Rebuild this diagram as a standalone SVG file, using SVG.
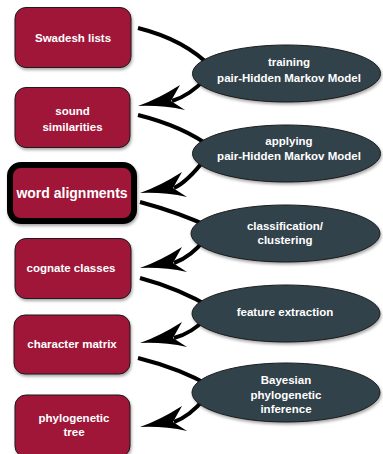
<svg xmlns="http://www.w3.org/2000/svg" xmlns:xlink="http://www.w3.org/1999/xlink" width="383" height="454" viewBox="0 0 383 454">
<defs>
<filter id="sh" x="-10%" y="-10%" width="125%" height="130%">
<feDropShadow dx="1" dy="2" stdDeviation="1.5" flood-color="#000" flood-opacity="0.35"/>
</filter>
<path id="ah" d="M0,0 Q20,-7 42,-21 L33,-5 L47,4 Q24,-1 0,0 Z"/>
</defs>
<style>
.box{fill:#a01839;stroke:#1a1a1a;stroke-width:1;filter:url(#sh)}
.ell{fill:#33434c;stroke:#1a1a1a;stroke-width:1;filter:url(#sh)}
.t{font-family:"Liberation Sans",Arial,sans-serif;font-weight:bold;font-size:11.5px;fill:#ffffff;text-anchor:middle}
.big{font-size:14px}
.c{fill:none;stroke:#000;stroke-width:4;stroke-linecap:butt}
.a{fill:#000}
</style>
<g id="connectors">
<path class="c" d="M138,28 C170,36 195,50 212,68"/>
<path class="c" d="M205,79 C195,90 185,97 172,101"/>
<use class="a" xlink:href="#ah" x="138" y="106"/>
<path class="c" d="M138,115 C170,123 195,135 212,148"/>
<path class="c" d="M205,159 C195,172 185,183 174,188"/>
<use class="a" xlink:href="#ah" x="140" y="193"/>
<path class="c" d="M140,202 C170,210 195,220 212,228"/>
<path class="c" d="M205,239 C195,252 185,259 174,263"/>
<use class="a" xlink:href="#ah" x="140" y="268"/>
<path class="c" d="M140,278 C170,286 195,298 212,308"/>
<path class="c" d="M205,319 C195,330 185,335 174,338"/>
<use class="a" xlink:href="#ah" x="140" y="343"/>
<path class="c" d="M138,358 C170,366 195,377 212,387"/>
<path class="c" d="M205,398 C195,410 185,418 174,422"/>
<use class="a" xlink:href="#ah" x="140" y="427"/>
</g>
<g id="swadesh">
<rect class="box" x="15" y="7.5" width="116" height="60" rx="11"/>
<text class="t" x="73" y="42">Swadesh lists</text>
</g>
<g id="sound">
<rect class="box" x="15" y="87.5" width="115" height="60" rx="11"/>
<text class="t" x="72.5" y="115">sound</text>
<text class="t" x="72.5" y="131">similarities</text>
</g>
<g id="alignments">
<rect x="10" y="165" width="124" height="56" rx="11" fill="#a01839" stroke="#000" stroke-width="6" filter="url(#sh)"/>
<text class="t big" x="72" y="198">word alignments</text>
</g>
<g id="cognate">
<rect class="box" x="15" y="238.5" width="116" height="60" rx="11"/>
<text class="t" x="71" y="272">cognate classes</text>
</g>
<g id="matrix">
<rect class="box" x="14" y="315" width="116" height="59" rx="11"/>
<text class="t" x="72" y="348">character matrix</text>
</g>
<g id="tree">
<rect class="box" x="15" y="395" width="115" height="62" rx="11"/>
<text class="t" x="74" y="422">phylogenetic</text>
<text class="t" x="74" y="436">tree</text>
</g>
<g id="training">
<ellipse class="ell" cx="286.5" cy="73.5" rx="94" ry="28.5"/>
<text class="t" x="289" y="66">training</text>
<text class="t" x="289" y="82">pair-Hidden Markov Model</text>
</g>
<g id="applying">
<ellipse class="ell" cx="286.5" cy="153.5" rx="94" ry="28.5"/>
<text class="t" x="289" y="145">applying</text>
<text class="t" x="289" y="160">pair-Hidden Markov Model</text>
</g>
<g id="classification">
<ellipse class="ell" cx="285.5" cy="233.5" rx="94.5" ry="28.5"/>
<text class="t" x="285" y="230">classification/</text>
<text class="t" x="285" y="244">clustering</text>
</g>
<g id="feature">
<ellipse class="ell" cx="286" cy="313.5" rx="94" ry="28.5"/>
<text class="t" x="285" y="315.5">feature extraction</text>
</g>
<g id="bayesian">
<ellipse class="ell" cx="286" cy="392.5" rx="94" ry="29.5"/>
<text class="t" x="286" y="384">Bayesian</text>
<text class="t" x="286" y="399">phylogenetic</text>
<text class="t" x="286" y="413">inference</text>
</g>
</svg>
